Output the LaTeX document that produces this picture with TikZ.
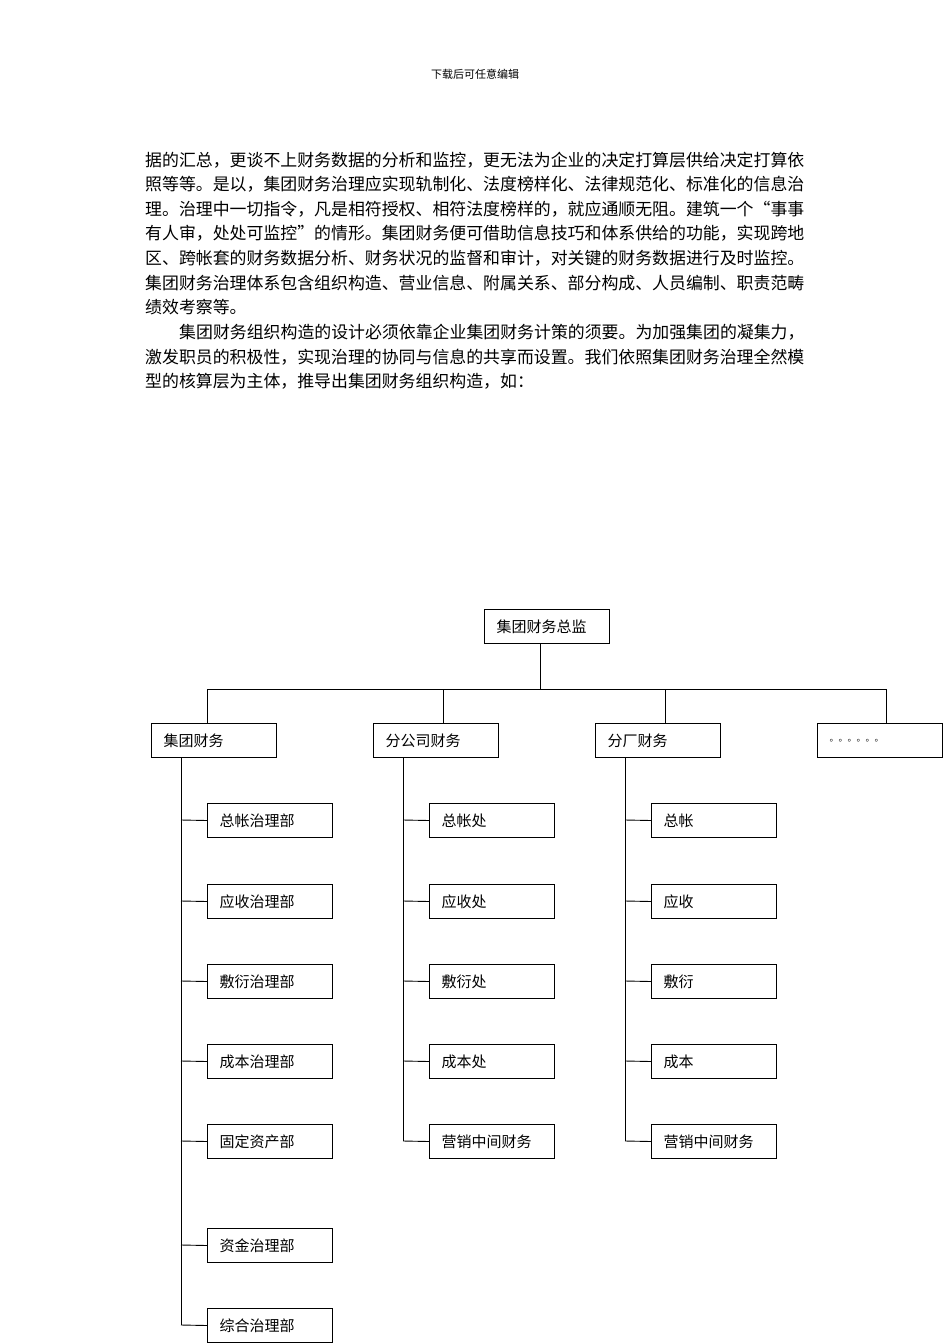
\documentclass[tikz,border=0pt]{standalone}
\usepackage{fontspec}
\setmainfont{Noto Sans CJK SC}
\begin{document}
\begin{tikzpicture}[x=1pt,y=-1pt,
  line/.style={font=\fontsize{16.9}{20}\selectfont,anchor=west,inner sep=0pt},
  box/.style={draw,line width=1pt,minimum width=125pt,text width=125pt,minimum height=34pt,anchor=north west,inner sep=0pt,align=left,font=\fontsize{15}{18}\selectfont},
  conn/.style={line width=0.9pt}]
\useasboundingbox (0,0) rectangle (950,1344);
\node[font=\fontsize{11}{13}\selectfont,inner sep=0pt] (hdr) at (475,74) {下载后可任意编辑};
\node[line] (l1) at (145,160) {据的汇总，更谈不上财务数据的分析和监控，更无法为企业的决定打算层供给决定打算依};
\node[line] (l2) at (145,184) {照等等。是以，集团财务治理应实现轨制化、法度榜样化、法律规范化、标准化的信息治};
\node[line] (l3) at (145,209) {理。治理中一切指令，凡是相符授权、相符法度榜样的，就应通顺无阻。建筑一个“事事};
\node[line] (l4) at (145,233) {有人审，处处可监控”的情形。集团财务便可借助信息技巧和体系供给的功能，实现跨地};
\node[line] (l5) at (145,258) {区、跨帐套的财务数据分析、财务状况的监督和审计，对关键的财务数据进行及时监控。};
\node[line] (l6) at (145,283) {集团财务治理体系包含组织构造、营业信息、附属关系、部分构成、人员编制、职责范畴};
\node[line] (l7) at (145,307) {绩效考察等。};
\node[line] (l8) at (179,332) {集团财务组织构造的设计必须依靠企业集团财务计策的须要。为加强集团的凝集力，};
\node[line] (l9) at (145,357) {激发职员的积极性，实现治理的协同与信息的共享而设置。我们依照集团财务治理全然模};
\node[line] (l10) at (145,381) {型的核算层为主体，推导出集团财务组织构造，如：};

\node[box] (top) at (484,609) {\hspace*{12pt}集团财务总监};
\foreach \n/\x/\t in {a/151/集团财务,b/373/分公司财务,c/595/分厂财务,d/817/{\fontsize{9}{10}\selectfont 。。。。。。}}
  \node[box] (\n) at (\x,723) {\hspace*{12pt}\t};
\coordinate (tb) at (540,643);
\coordinate (bus) at (540,689);
\draw[conn] (tb) -- (bus);
\draw[conn] (207,689) coordinate (bl) -- (886,689) coordinate (br);
\foreach \n/\x in {a/207,b/443,c/665,d/886}
  \draw[conn] (\x,689) -- (\x,723);
\foreach \t [count=\i] in {总帐治理部,应收治理部,敷衍治理部,成本治理部,固定资产部,资金治理部,综合治理部}{
  \pgfmathsetmacro{\yy}{{803,884,964,1044,1124,1228,1308}[\i-1]}
  \node[box] (a\i) at (207,\yy) {\hspace*{12pt}\t};
  \draw[conn] (181,\yy+17) -- (a\i.west);
}
\draw[conn] (181,757) -- (181,1325);
\foreach \t [count=\i] in {总帐处,应收处,敷衍处,成本处,营销中间财务}{
  \pgfmathsetmacro{\yy}{{803,884,964,1044,1124}[\i-1]}
  \node[box] (b\i) at (429,\yy) {\hspace*{12pt}\t};
  \draw[conn] (403,\yy+17) -- (b\i.west);
}
\draw[conn] (403,757) -- (403,1141);
\foreach \t [count=\i] in {总帐,应收,敷衍,成本,营销中间财务}{
  \pgfmathsetmacro{\yy}{{803,884,964,1044,1124}[\i-1]}
  \node[box] (c\i) at (651,\yy) {\hspace*{12pt}\t};
  \draw[conn] (625,\yy+17) -- (c\i.west);
}
\draw[conn] (625,757) -- (625,1141);
\end{tikzpicture}
\end{document}
